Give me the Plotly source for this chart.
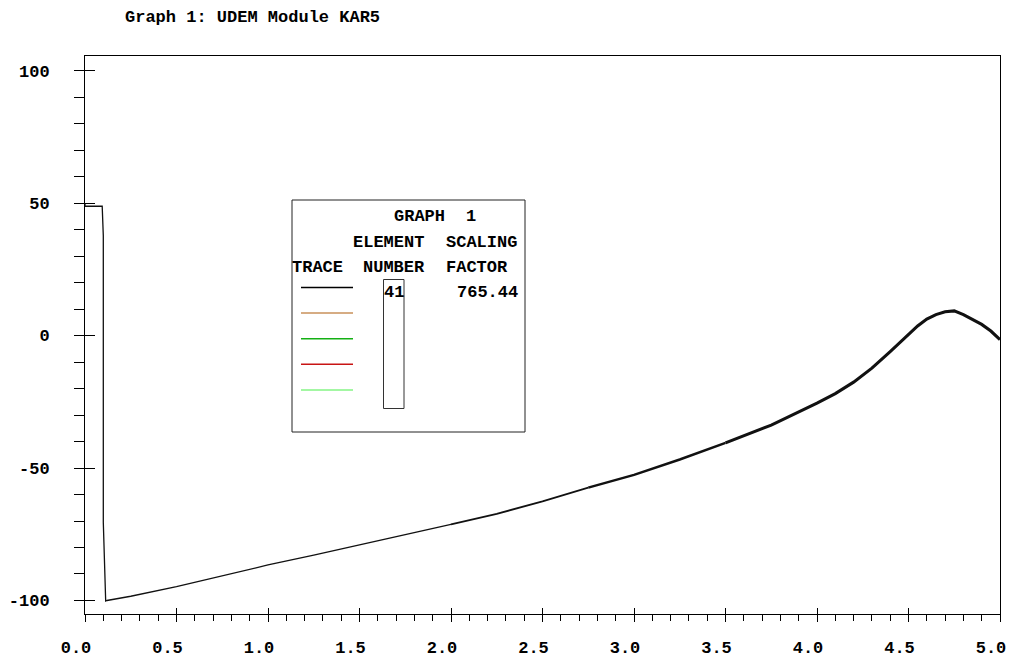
import plotly.graph_objects as go

# ---- data: UDEM module KAR5, element 41 (scaled by 765.44) ----
time_s = [0.0, 0.0, 0.094, 0.100, 0.100, 0.113, 0.12, 0.25, 0.5, 0.75,
          1.0, 1.25, 1.5, 1.75, 2.0, 2.25, 2.5, 2.75, 3.0, 3.25,
          3.5, 3.75, 4.0, 4.1, 4.2, 4.3, 4.4, 4.5, 4.55, 4.6,
          4.65, 4.7, 4.75, 4.8, 4.85, 4.9, 4.95, 5.0]
response = [50.0, 48.8, 48.8, 37.7, -70.5, -100.2, -100.0, -98.4, -94.8, -90.8,
            -86.6, -82.9, -79.1, -75.3, -71.3, -67.3, -62.6, -57.4, -52.6, -46.8,
            -40.5, -33.8, -25.5, -21.9, -17.6, -12.3, -6.1, 0.6, 3.6, 6.2,
            7.9, 9.0, 9.3, 7.9, 6.2, 4.2, 1.7, -1.5]

x_tick_vals = [0.0, 0.5, 1.0, 1.5, 2.0, 2.5, 3.0, 3.5, 4.0, 4.5, 5.0]
x_tick_text = ["0.0", "0.5", "1.0", "1.5", "2.0", "2.5", "3.0", "3.5", "4.0", "4.5", "5.0"]
y_tick_vals = [-100, -50, 0, 50, 100]
y_tick_text = ["-100", "-50", "0", "50", "100"]

trace_colors = ["#000000", "#C8915A", "#14B014", "#C81414", "#84F484"]
element_numbers = ["41"]
scaling_factors = ["765.44"]

# ---- styling ----
FONT = dict(family="Liberation Mono, Courier New, monospace", size=17, color="#000000", weight="bold")
INK = "#000000"
X_RANGE = [0.0, 5.0]
Y_RANGE = [-105.1, 105.5]
W, H = 1011, 662
ML, MR, MT, MB = 85, 11, 56, 48
PW, PH = W - ML - MR, H - MT - MB

# curve drawn heavier where the trace becomes jagged
segments = [(0.0, 2.0, 1.3), (2.0, 2.75, 1.8), (2.75, 3.5, 2.5), (3.5, 5.0, 3.1)]


def px_x(px):
    return (px - ML) / PW


def px_y(py):
    return (H - MB - py) / PH


fig = go.Figure()
for lo, hi, lw in segments:
    idx = [i for i, t in enumerate(time_s) if lo <= t <= hi]
    fig.add_trace(go.Scatter(
        x=[time_s[i] for i in idx], y=[response[i] for i in idx],
        mode="lines", line=dict(color="#111111", width=lw),
        showlegend=False, hoverinfo="skip"))

# empty trace carrying the overlay axes for the inner half of the major ticks
fig.add_trace(go.Scatter(x=[], y=[], xaxis="x2", yaxis="y2", showlegend=False))

axis_common = dict(showgrid=False, zeroline=False, tickcolor=INK, tickwidth=1,
                   tickfont=FONT, tickmode="array", automargin=False)

fig.update_layout(
    width=W, height=H, autosize=False,
    margin=dict(l=ML, r=MR, t=MT, b=MB, pad=0),
    paper_bgcolor="white", plot_bgcolor="white",
    title=dict(text="Graph 1: UDEM Module KAR5", font=FONT,
               x=125 / W, xanchor="left", xref="container",
               y=1 - 16 / H, yanchor="middle", yref="container", automargin=False),
    xaxis=dict(range=X_RANGE, tickvals=x_tick_vals, ticktext=x_tick_text,
               ticks="outside", ticklen=7, showline=True, linecolor=INK, linewidth=1,
               mirror=True, ticklabelstandoff=11, ticklabelshift=-9,
               minor=dict(dtick=0.1, tick0=0, ticks="outside", ticklen=6,
                          tickcolor=INK, tickwidth=1),
               **axis_common),
    yaxis=dict(range=Y_RANGE, tickvals=y_tick_vals, ticktext=y_tick_text,
               ticks="outside", ticklen=10, showline=True, linecolor=INK, linewidth=1,
               mirror=True, ticklabelstandoff=21,
               minor=dict(dtick=10, tick0=0, ticks="outside", ticklen=10,
                          tickcolor=INK, tickwidth=1),
               **axis_common),
    xaxis2=dict(range=X_RANGE, overlaying="x", anchor="y2", side="bottom",
                tickvals=x_tick_vals, ticks="inside", ticklen=6,
                showticklabels=False, showline=False, **axis_common),
    yaxis2=dict(range=Y_RANGE, overlaying="y", anchor="x2", side="left",
                tickvals=y_tick_vals, ticks="inside", ticklen=10,
                showticklabels=False, showline=False, **axis_common),
)

shapes = []
# legend table frame
shapes.append(dict(type="rect", xref="paper", yref="paper",
                   x0=px_x(292), x1=px_x(525), y0=px_y(432), y1=px_y(200),
                   line=dict(color="#222222", width=1), fillcolor="rgba(0,0,0,0)"))
# element-number column box
shapes.append(dict(type="rect", xref="paper", yref="paper",
                   x0=px_x(383.5), x1=px_x(404), y0=px_y(408.5), y1=px_y(279.5),
                   line=dict(color="#333333", width=1), fillcolor="rgba(0,0,0,0)"))
# trace sample lines
row0, row_step = 287.5, 25.6
for k, col in enumerate(trace_colors):
    yy = px_y(row0 + k * row_step)
    shapes.append(dict(type="line", xref="paper", yref="paper",
                       x0=px_x(301), x1=px_x(353), y0=yy, y1=yy,
                       line=dict(color=col, width=1.5)))
fig.update_layout(shapes=shapes)

# legend table text (x centre, y centre in pixels)
table_text = [
    ("GRAPH", 419, 216), ("1", 471, 216),
    ("ELEMENT", 388.5, 242), ("SCALING", 481.5, 242),
    ("TRACE", 317.5, 267.5), ("NUMBER", 394, 267.5), ("FACTOR", 476.5, 267.5),
]
for k, (num, fac) in enumerate(zip(element_numbers, scaling_factors)):
    yy = 292.5 + k * row_step
    table_text.append((num, 394, yy))
    table_text.append((fac, 487, yy))

for txt, cx, cy in table_text:
    fig.add_annotation(text=txt, xref="paper", yref="paper",
                       x=px_x(cx), y=px_y(cy), xanchor="center", yanchor="middle",
                       showarrow=False, font=FONT)

fig.write_html("out.html")
